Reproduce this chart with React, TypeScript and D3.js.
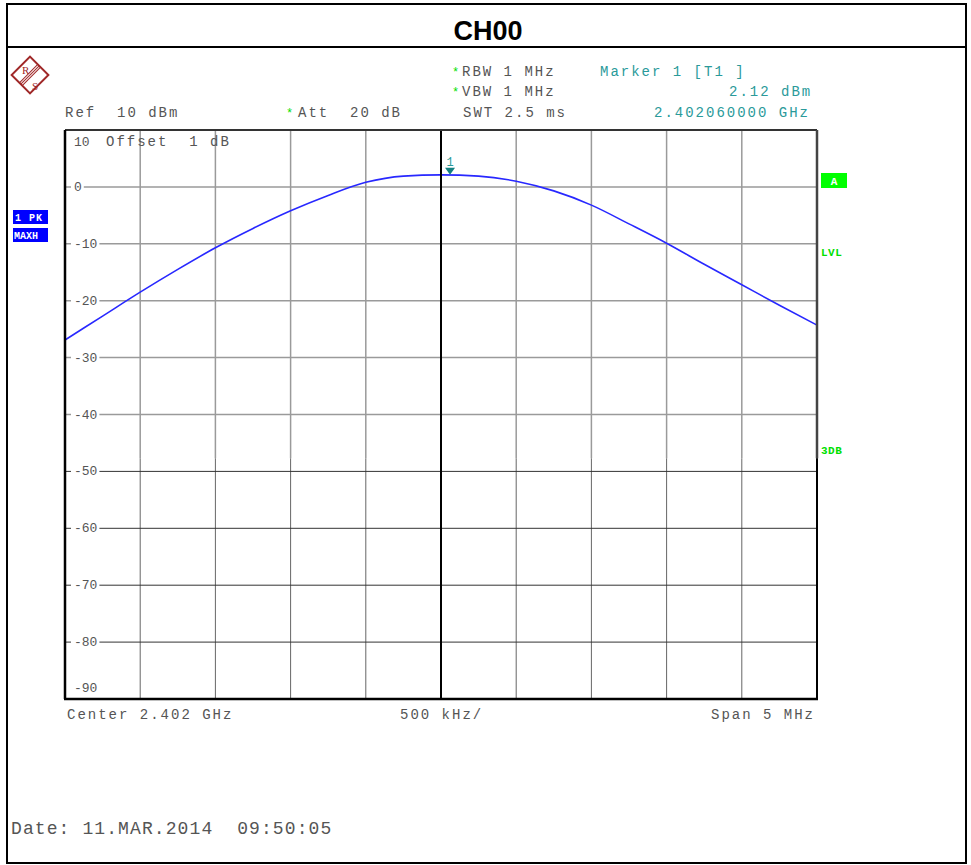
import * as React from "react";
import * as d3 from "d3";

// trace data, offset from center (MHz) vs level (dBm)
const freqOffsetMHz = [
  -2.5, -2.25, -2.0, -1.75, -1.5, -1.25, -1.0, -0.75, -0.5, -0.25, 0, 0.25,
  0.5, 0.75, 1.0, 1.25, 1.5, 1.75, 2.0, 2.25, 2.5,
];
const levelDbm = [
  -26.9, -22.7, -18.5, -14.5, -10.7, -7.3, -4.2, -1.5, 0.8, 1.9, 2.12, 1.9,
  1.0, -0.7, -3.2, -6.5, -9.9, -13.6, -17.2, -20.8, -24.3,
];
const yTicks = [10, 0, -10, -20, -30, -40, -50, -60, -70, -80, -90];
const xGrid = [-2.5, -2.0, -1.5, -1.0, -0.5, 0, 0.5, 1.0, 1.5, 2.0, 2.5];
const markerOffsetMHz = 0.06;
const markerLevel = 2.12;

const W = 971;
const H = 865;
const left = 65;
const right = 817;
const top = 130;
const bottom = 699;
const mono = "'Liberation Mono', 'DejaVu Sans Mono', monospace";
const gray = "#555";
const teal = "#2a9a9a";
const green = "#00e000";

export default function App() {
  const x = d3.scaleLinear([-2.5, 2.5], [left, right]);
  const y = d3.scaleLinear([-90, 10], [bottom, top]);
  const splitY = y(-47.7); // lighter grid above this

  const line = d3
    .line<number>()
    .x((_, i) => x(freqOffsetMHz[i]))
    .y((d) => y(d))
    .curve(d3.curveMonotoneX);

  const txt = (props: any, s: string) => (
    <text
      fontFamily={mono}
      fontSize={14}
      letterSpacing={2}
      fill={gray}
      style={{ whiteSpace: "pre" }}
      {...props}
    >
      {s}
    </text>
  );

  const mx = x(markerOffsetMHz);
  const my = y(markerLevel);

  return (
    <svg
      width={W}
      height={H}
      style={{ position: "absolute", left: 0, top: 0, background: "#fff" }}
    >
      {/* outer frame */}
      <rect x={7} y={4} width={959} height={859} fill="none" stroke="#000" strokeWidth={2} />
      <line x1={7} x2={966} y1={47} y2={47} stroke="#000" strokeWidth={2} />
      <text
        x={488}
        y={40}
        textAnchor="middle"
        fontFamily="'Liberation Sans', Arial, sans-serif"
        fontWeight="bold"
        fontSize={27}
      >
        CH00
      </text>

      {/* R&S logo */}
      <g transform="translate(30,75) rotate(45)" stroke="#a02828" fill="none">
        <rect x={-13} y={-13} width={26} height={26} strokeWidth={2} />
        <line x1={-2} x2={-2} y1={-13} y2={13} strokeWidth={1} />
        <line x1={0} x2={0} y1={-13} y2={13} strokeWidth={1} />
        <line x1={2} x2={2} y1={-13} y2={13} strokeWidth={1} />
      </g>
      <text x={22} y={74} fontFamily="'Liberation Serif', serif" fontSize={11} fill="#a02828">R</text>
      <text x={32} y={90} fontFamily="'Liberation Serif', serif" fontSize={11} fill="#a02828">S</text>

      {/* header texts */}
      <text x={452} y={76} fill={green} fontSize={12} fontFamily={mono}>*</text>
      {txt({ x: 462, y: 76 }, "RBW 1 MHz")}
      <text x={452} y={96} fill={green} fontSize={12} fontFamily={mono}>*</text>
      {txt({ x: 462, y: 96 }, "VBW 1 MHz")}
      {txt({ x: 463, y: 117 }, "SWT 2.5 ms")}
      {txt({ x: 600, y: 76, fill: teal }, "Marker 1 [T1 ]")}
      {txt({ x: 729, y: 96, fill: teal }, "2.12 dBm")}
      {txt({ x: 654, y: 117, fill: teal }, "2.402060000 GHz")}
      {txt({ x: 65, y: 117 }, "Ref  10 dBm")}
      <text x={286} y={117} fill={green} fontSize={12} fontFamily={mono}>*</text>
      {txt({ x: 298, y: 117 }, "Att  20 dB")}

      {/* trace indicators */}
      <rect x={13} y={210} width={35} height={14} fill="#0000ff" />
      <text x={15} y={221} fill="#fff" fontFamily={mono} fontWeight="bold" fontSize={10} letterSpacing={1}>1 PK</text>
      <rect x={13} y={228} width={35} height={14} fill="#0000ff" />
      <text x={14} y={239} fill="#fff" fontFamily={mono} fontWeight="bold" fontSize={10}>MAXH</text>

      <rect x={821} y={173} width={26} height={15} fill="#00ff00" />
      <text x={834} y={185} textAnchor="middle" fill="#fff" fontFamily={mono} fontWeight="bold" fontSize={11}>A</text>
      <text x={821} y={256} fill={green} fontFamily={mono} fontWeight="bold" fontSize={11} letterSpacing={0.5}>LVL</text>
      <text x={821} y={454} fill={green} fontFamily={mono} fontWeight="bold" fontSize={11} letterSpacing={0.5}>3DB</text>

      {/* grid: vertical */}
      {xGrid.map((v) => (
        <g key={"v" + v}>
          <line x1={x(v)} x2={x(v)} y1={top} y2={splitY} stroke="#9a9a9a" strokeWidth={1.5} />
          <line x1={x(v)} x2={x(v)} y1={splitY} y2={bottom} stroke="#666" strokeWidth={1} />
        </g>
      ))}
      {/* grid: horizontal */}
      {yTicks.map((v) => {
        const yy = y(v);
        const upper = yy < splitY;
        return (
          <line
            key={"h" + v}
            x1={left}
            x2={right}
            y1={yy}
            y2={yy}
            stroke={upper ? "#9a9a9a" : "#333"}
            strokeWidth={upper ? 1.5 : 1}
          />
        );
      })}

      {/* y tick labels */}
      {yTicks.map((v) => {
        const s = String(v);
        const isTop = v === 10;
        const isBottom = v === -90;
        const yy = isTop ? y(v) + 16 : isBottom ? y(v) - 7 : y(v) + 4;
        return (
          <g key={"t" + v}>
            {!isTop && !isBottom && (
              <rect x={71} y={y(v) - 6} width={s.length * 7.8 + 5} height={12} fill="#fff" />
            )}
            <text x={74} y={yy} fontFamily={mono} fontSize={13} fill={gray}>
              {s}
            </text>
          </g>
        );
      })}
      {txt({ x: 106, y: 146 }, "Offset  1 dB")}

      {/* trace */}
      <path d={line(levelDbm) ?? ""} fill="none" stroke="#2828ff" strokeWidth={1.6} />

      {/* center line and borders */}
      <line x1={x(0)} x2={x(0)} y1={top} y2={bottom} stroke="#000" strokeWidth={2} />
      <line x1={left} x2={right} y1={top} y2={top} stroke="#333" strokeWidth={2} />
      <line x1={right} x2={right} y1={top} y2={splitY} stroke="#444" strokeWidth={2.5} />
      <line x1={right} x2={right} y1={splitY} y2={bottom} stroke="#000" strokeWidth={2} />
      <line x1={left} x2={left} y1={top} y2={bottom} stroke="#000" strokeWidth={2.5} />
      <line x1={left - 1} x2={right + 1} y1={bottom} y2={bottom} stroke="#000" strokeWidth={2.5} />

      {/* marker */}
      <path
        d={`M${mx - 5},${my - 7} L${mx + 5},${my - 7} L${mx},${my} Z`}
        fill="#138080"
      />
      <text x={mx} y={my - 9} textAnchor="middle" fontFamily={mono} fontSize={12} fill={teal}>
        1
      </text>

      {/* bottom labels */}
      {txt({ x: 67, y: 719 }, "Center 2.402 GHz")}
      {txt({ x: 400, y: 719 }, "500 kHz/")}
      {txt({ x: 711, y: 719 }, "Span 5 MHz")}

      <text
        x={11}
        y={834}
        fontFamily={mono}
        fontSize={18}
        letterSpacing={1.1}
        fill={gray}
        style={{ whiteSpace: "pre" }}
      >
        Date: 11.MAR.2014  09:50:05
      </text>
    </svg>
  );
}
